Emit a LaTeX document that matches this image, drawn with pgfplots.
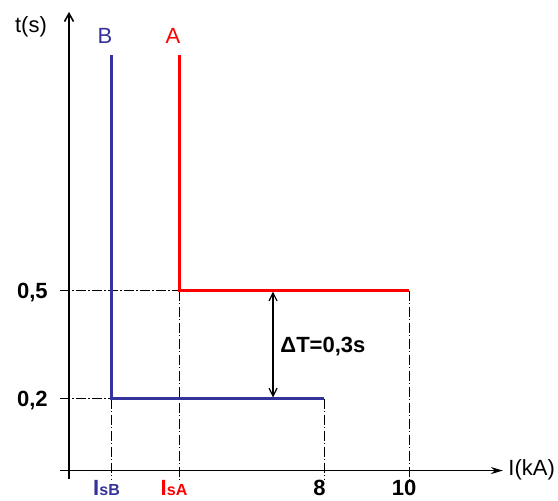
\documentclass[border=0pt]{standalone}
\usepackage{fontspec}
\setmainfont{Liberation Sans}
\usepackage{pgfplots}
\pgfplotsset{compat=1.18}
\usetikzlibrary{arrows.meta}

\definecolor{cbleu}{RGB}{51,51,153}
\definecolor{crouge}{RGB}{255,0,0}

\tikzset{
  tiret/.style={black, line width=0.5pt, dash pattern=on 5pt off 1.2pt on 0.6pt off 1.2pt},
  fnt/.style={font=\fontsize{11}{13}\selectfont},
}

\begin{document}
\begin{tikzpicture}
  \begin{axis}[
    x=17pt, y=180pt,
    axis lines=middle,
    xmin=-0.265, xmax=12.76,
    ymin=-0.024, ymax=1.274,
    clip=false,
    major tick length=0pt,
    x axis line style={line width=0.8pt, -{Stealth[length=6pt,width=3.5pt]}},
    y axis line style={line width=0.8pt, -{Straight Barb[length=4pt,width=4.5pt]}},
    xtick={1.25,3.235,7.51,10},
    xticklabels={
      {\textcolor{cbleu}{I\fontsize{8}{9}\selectfont sB}},
      {\textcolor{crouge}{I\fontsize{8}{9}\selectfont sA}},
      8, 10},
    ytick={0.2,0.5},
    yticklabels={{0,2},{0,5}},
    every tick label/.style={font=\bfseries\fontsize{11}{13}\selectfont, inner sep=0pt},
    xticklabel style={anchor=base, yshift=-12.25pt, xshift=-2.5pt},
    yticklabel style={anchor=base east, yshift=-4pt, xshift=-10.5pt},
  ]

  % lignes de rappel
  \addplot[tiret] coordinates {(-0.265,0.5) (3.235,0.5)};
  \addplot[tiret] coordinates {(-0.265,0.2) (1.25,0.2)};
  \addplot[tiret] coordinates {(1.25,0.2) (1.25,-0.024)};
  \addplot[tiret] coordinates {(3.235,0.5) (3.235,-0.024)};
  \addplot[tiret] coordinates {(7.51,0.2) (7.51,-0.024)};
  \addplot[tiret] coordinates {(10,0.5) (10,-0.024)};

  % courbes des disjoncteurs
  \addplot[crouge, line width=1.5pt] coordinates {(3.235,1.154) (3.235,0.5) (10,0.5)};
  \addplot[cbleu, line width=1.5pt] coordinates {(1.25,1.154) (1.25,0.2) (7.51,0.2)};

  % ecart de temps
  \addplot[black, line width=0.6pt, {Straight Barb[length=4pt,width=4pt]}-{Straight Barb[length=4pt,width=4pt]}]
    coordinates {(6.0,0.497) (6.0,0.203)};

  \node[fnt, anchor=base west, inner sep=0pt] at (axis cs:6.206,0.329) {\bfseries ΔT=0,3s};
  \node[fnt, anchor=base, inner sep=0pt] at (axis cs:-1.118,1.218) {t(s)};
  \node[fnt, anchor=base west, inner sep=0pt] at (axis cs:12.91,-0.0125) {I(kA)};
  \node[fnt, anchor=base, inner sep=0pt, text=cbleu] at (axis cs:1.059,1.185) {B};
  \node[fnt, anchor=base, inner sep=0pt, text=crouge] at (axis cs:3.06,1.185) {A};

  \coordinate (bl) at (axis cs:-2.03,-0.082);
  \coordinate (tr) at (axis cs:14.38,1.307);
  \end{axis}
  \pgfresetboundingbox
  \path[use as bounding box] (bl) rectangle (tr);
\end{tikzpicture}
\end{document}
